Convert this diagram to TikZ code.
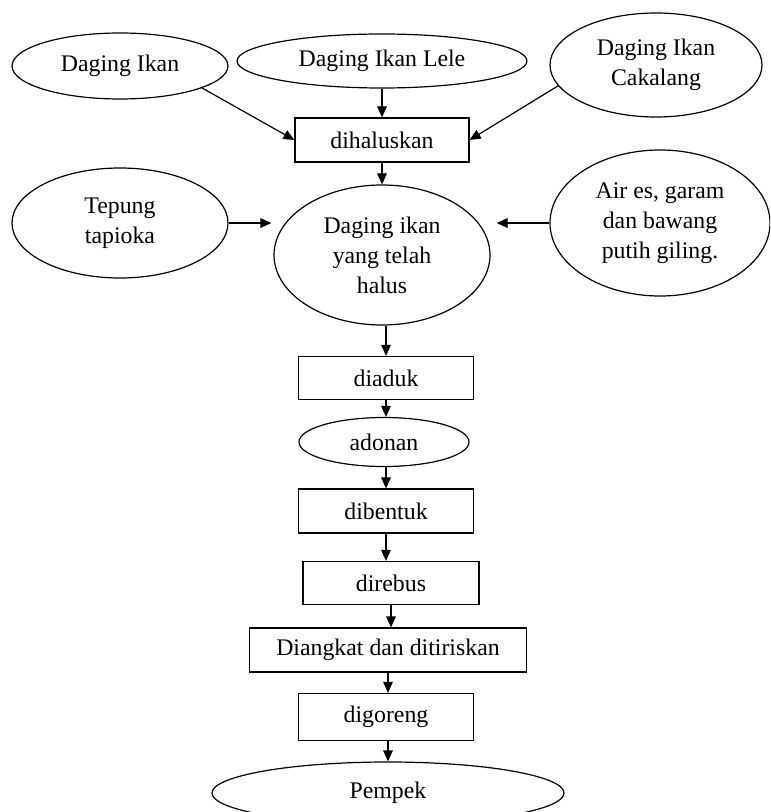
\documentclass[tikz,border=0pt]{standalone}
\usepackage{fontspec}
\setmainfont{Liberation Serif}
\usetikzlibrary{shapes.geometric,arrows.meta}
\begin{document}
\begin{tikzpicture}[x=0.5pt,y=-0.5pt,
  every node/.style={font=\fontsize{11.9}{15}\selectfont, align=center, inner sep=0pt},
  ell/.style={draw, ellipse, line width=0.6pt},
  stepbox/.style={draw, rectangle, line width=0.6pt},
  arr/.style={-{Triangle[length=5.5pt,width=4.8pt]}, line width=0.6pt}]
\useasboundingbox (0,0) rectangle (770,812);
\clip (0,0) rectangle (770,812);
% top row
\node[ell, minimum width=108pt, minimum height=33pt] (di) at (120,66) {Daging Ikan};
\node[ell, minimum width=145pt, minimum height=27pt] (lele) at (382,61) {Daging Ikan Lele};
\node[ell, minimum width=106pt, minimum height=52pt] (ck) at (656,65) {Daging Ikan\\Cakalang};
\node[stepbox, minimum width=87pt, minimum height=22pt] (dh) at (382,140) {dihaluskan};
% middle
\node[ell, minimum width=108pt, minimum height=55pt] (tp) at (120,223) {Tepung\\tapioka};
\node[ell, minimum width=108pt, minimum height=70pt] (dg) at (382,255) {Daging ikan\\yang telah\\halus};
\node[ell, minimum width=110pt, minimum height=73pt] (ae) at (660,223) {Air es, garam\\dan bawang\\putih giling.};
% lower chain
\node[stepbox, minimum width=87.5pt, minimum height=21.5pt] (da) at (386,378) {diaduk};
\node[ell, minimum width=85pt, minimum height=24.5pt] (ad) at (384,442) {adonan};
\node[stepbox, minimum width=87.5pt, minimum height=22pt] (db) at (386,511) {dibentuk};
\node[stepbox, minimum width=88pt, minimum height=21.5pt] (dr) at (391,583) {direbus};
\node[stepbox, minimum width=138.5pt, minimum height=22pt] (dk) at (388,650) {Diangkat dan ditiriskan};
\node[stepbox, minimum width=87.5pt, minimum height=23.5pt] (dgr) at (386,717) {digoreng};
\node[ell, minimum width=176pt, minimum height=31pt] (pp) at (388,793) {Pempek};
% connectors
\draw[arr] (di.-15) -- (dh.west);
\draw[arr] (lele) -- (dh);
\draw[arr] (ck.-168) -- (dh.east);
\draw[arr] (dg |- dh.south) -- (dg);
\draw[arr] (tp.east) -- ([xshift=-1pt]dg.west |- tp.east);
\draw[arr] (ae.west) -- ([xshift=3pt]dg.east |- ae.west);
\draw[arr] (da |- dg.south) -- (da);
\draw[arr] (da) -- (da |- ad.north);
\draw[arr] (db |- ad.south) -- (db);
\draw[arr] (db) -- (db |- dr.north);
\draw[arr] (dr) -- (dr |- dk.north);
\draw[arr] (dk) -- (dk |- dgr.north);
\draw[arr] (pp |- dgr.south) -- (pp);
\end{tikzpicture}
\end{document}
